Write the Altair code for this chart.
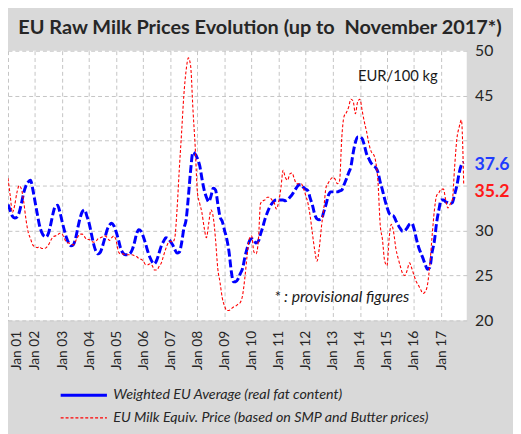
import altair as alt
import pandas as pd

# ---------------- data ----------------
series_names = [
    "Weighted EU Average (real fat content)",
    "EU Milk Equiv. Price (based on SMP and Butter prices)",
]
title_text = "EU Raw Milk Prices Evolution (up to\u00a0 November 2017*)"
first_month = "2001-01-01"   # monthly data, Jan 2001 .. Nov 2017
year_ticks = list(range(2001, 2018))

weighted_avg = [
    32.9, 32.2, 31.6, 31.4, 31.5, 32.0, 33.0, 34.2, 35.0, 35.4, 35.6, 34.6,  # 2001
    33.2, 31.8, 30.6, 29.8, 29.4, 29.3, 29.7, 30.7, 31.9, 32.7, 32.8, 32.1,  # 2002
    31.0, 30.0, 29.2, 28.6, 28.3, 28.4, 29.1, 30.3, 31.4, 32.1, 32.3, 31.6,  # 2003
    30.8, 29.6, 28.5, 27.7, 27.4, 27.6, 28.3, 29.2, 30.1, 30.6, 30.8, 30.5,  # 2004
    29.8, 28.9, 28.0, 27.5, 27.3, 27.3, 27.4, 27.8, 28.6, 29.6, 30.1, 29.9,  # 2005
    29.3, 28.5, 27.7, 27.0, 26.5, 26.3, 26.7, 27.5, 28.3, 28.8, 29.2, 29.1,  # 2006
    28.8, 28.4, 27.9, 27.5, 27.6, 28.6, 30.2, 31.2, 33.8, 36.7, 38.7, 38.5,  # 2007
    38.0, 37.2, 35.8, 34.5, 33.7, 33.2, 33.8, 34.7, 34.5, 33.0, 31.5, 31.0,  # 2008
    30.0, 29.0, 27.7, 25.5, 24.3, 24.3, 24.6, 25.2, 25.8, 27.0, 28.0, 28.8,  # 2009
    29.1, 28.9, 28.6, 28.8, 29.6, 30.4, 31.3, 32.0, 32.6, 33.0, 33.3, 33.4,  # 2010
    33.4, 33.4, 33.4, 33.3, 33.4, 33.7, 34.0, 34.4, 34.8, 35.1, 35.1, 34.8,  # 2011
    34.6, 34.4, 33.6, 32.8, 31.8, 31.3, 31.2, 31.3, 32.1, 32.9, 33.9, 34.3,  # 2012
    34.3, 34.3, 34.3, 34.4, 34.5, 35.1, 35.7, 36.4, 37.1, 38.6, 39.8, 40.4,  # 2013
    40.4, 40.2, 39.5, 38.5, 38.0, 37.5, 37.2, 37.0, 36.5, 35.4, 34.5, 33.5,  # 2014
    32.6, 31.9, 31.7, 31.6, 31.1, 30.6, 30.2, 29.9, 30.0, 30.3, 30.7, 30.8,  # 2015
    30.2, 29.1, 28.2, 27.5, 26.9, 26.2, 25.7, 25.9, 27.6, 28.8, 30.9, 32.3,  # 2016
    33.4, 33.4, 33.2, 33.1, 33.0, 33.1, 34.0, 35.0, 36.4, 37.3, 37.6,        # 2017
]

milk_equiv = [
    35.8, 33.8, 32.0, 32.8, 34.2, 35.0, 34.6, 33.2, 31.2, 29.8, 29.1, 28.4,  # 2001
    28.2, 28.1, 28.2, 28.0, 28.0, 28.1, 28.4, 28.9, 29.3, 29.4, 29.5, 29.7,  # 2002
    29.6, 29.1, 28.7, 28.6, 28.5, 28.4, 28.8, 29.3, 29.6, 29.6, 29.3, 29.0,  # 2003
    29.0, 28.8, 28.7, 28.8, 29.1, 29.2, 29.3, 29.4, 29.2, 28.9, 29.2, 29.4,  # 2004
    28.8, 27.6, 27.4, 27.4, 27.3, 27.3, 27.3, 27.3, 27.2, 27.1, 26.9, 26.8,  # 2005
    26.6, 26.2, 26.2, 26.3, 26.1, 25.6, 25.6, 26.0, 26.4, 27.2, 28.0, 28.6,  # 2006
    28.8, 28.7, 29.2, 32.4, 36.8, 40.9, 45.0, 47.8, 49.2, 48.3, 43.5, 39.4,  # 2007
    34.2, 33.0, 32.0, 30.3, 29.2, 30.8, 32.3, 31.5, 29.0, 25.8, 24.2, 22.5,  # 2008
    21.6, 21.1, 21.1, 21.3, 21.5, 21.6, 21.8, 22.0, 22.8, 24.7, 27.2, 29.1,  # 2009
    29.4, 27.6, 27.4, 28.8, 33.0, 33.3, 33.4, 33.7, 33.7, 33.4, 33.1, 32.4,  # 2010
    33.2, 34.8, 36.7, 35.9, 35.6, 36.3, 36.4, 35.7, 35.2, 35.2, 35.2, 34.7,  # 2011
    33.9, 33.0, 31.6, 29.6, 27.8, 26.6, 28.0, 30.5, 32.5, 34.8, 35.3, 35.7,  # 2012
    35.9, 35.7, 35.2, 35.5, 40.3, 42.7, 43.1, 43.7, 44.6, 44.4, 43.0, 44.3,  # 2013
    44.6, 43.3, 42.1, 41.0, 39.7, 38.8, 38.5, 37.7, 35.5, 30.7, 29.0, 26.6,  # 2014
    26.1, 29.3, 30.7, 29.8, 28.0, 26.9, 26.0, 25.2, 25.0, 25.6, 26.4, 25.8,  # 2015
    25.0, 24.3, 23.9, 23.4, 23.0, 23.2, 24.0, 26.2, 29.4, 32.2, 33.9, 34.2,  # 2016
    34.6, 34.6, 33.5, 32.5, 32.9, 33.4, 37.0, 40.2, 41.5, 42.3, 35.2,        # 2017
]

y_ticks = [20, 25, 30, 35, 40, 45, 50]
y_hidden_labels = [35, 40]   # covered by the latest-value labels

# ---------------- tables ----------------
dates = pd.date_range(first_month, periods=len(weighted_avg), freq="MS")
df = pd.concat([
    pd.DataFrame({"date": dates, "value": weighted_avg, "series": series_names[0]}),
    pd.DataFrame({"date": dates, "value": milk_equiv, "series": series_names[1]}),
])
last_df = pd.DataFrame({
    "date": [dates[-1], dates[-1]],
    "value": [weighted_avg[-1], milk_equiv[-1]],
    "series": series_names,
    "label": [f"{weighted_avg[-1]:.1f}", f"{milk_equiv[-1]:.1f}"],
})

FONT = "Lato"
BLUE, RED = "#0000ff", "#ff0000"

x_scale = alt.Scale(domain=[alt.DateTime(year=2001, month=1, date=1),
                            alt.DateTime(year=2017, month=12, date=12)], nice=False)
y_scale = alt.Scale(domain=[20, 50], nice=False, zero=False)

x_axis = alt.Axis(
    values=[alt.DateTime(year=y, month=1, date=1) for y in year_ticks],
    format="%b %y", labelAngle=270, labelFont=FONT, labelFontSize=14,
    labelColor="#262626", labelPadding=10, ticks=False, tickSize=0,
    labelOffset={"condition": {"test": "datum.value < datetime(2001, 0, 15)",
                               "value": 8.5}, "value": 0},
    domain=False, grid=True, gridColor="#c4c4c4", gridDash=[4, 3],
    labelFlush=False, labelOverlap=False, labelBound=False, title=None,
)
hide_expr = " || ".join(f"datum.value == {v}" for v in y_hidden_labels)
y_axis = alt.Axis(
    orient="right", values=y_ticks, labelFont=FONT, labelFontSize=16,
    labelColor="#262626", labelPadding=8, ticks=False, tickSize=0,
    labelExpr=f"({hide_expr}) ? '' : datum.label",
    domain=False, grid=True, gridColor="#c4c4c4", gridDash=[4, 3],
    labelFlush=False, title=None,
)

X = alt.X("date:T", scale=x_scale, axis=x_axis)
Y = alt.Y("value:Q", scale=y_scale, axis=y_axis)

legend = alt.Legend(
    title=None, orient="none", legendX=52, legendY=342, padding=0,
    direction="vertical", symbolType="stroke", symbolSize=2209,
    clipHeight=16, rowPadding=7, labelOffset=5, labelFont=FONT,
    labelFontStyle="italic", labelFontSize=14.5, labelColor="#262626",
    labelLimit=450,
)

base = alt.Chart(df)

blue_line = base.transform_filter(alt.datum.series == series_names[0]).mark_line(
    interpolate="monotone", color=BLUE, strokeWidth=3, strokeDash=[8, 3],
).encode(x=X, y=Y, order=alt.Order("date:T"))

red_line = base.transform_filter(alt.datum.series == series_names[1]).mark_line(
    interpolate="monotone", color=RED, strokeWidth=1.1, strokeDash=[3, 2],
).encode(x=X, y=Y, order=alt.Order("date:T"))

# empty layer that only carries the legend (solid blue / dotted red keys)
legend_layer = base.transform_filter("false").mark_line().encode(
    x=X, y=Y,
    color=alt.Color("series:N", scale=alt.Scale(domain=series_names,
                    range=[BLUE, RED]), legend=legend),
    strokeWidth=alt.StrokeWidth("series:N", scale=alt.Scale(domain=series_names,
                                range=[3, 1.1]), legend=legend),
    strokeDash=alt.StrokeDash("series:N", scale=alt.Scale(domain=series_names,
                              range=[[1, 0], [3, 2]]), legend=legend),
)

blue_lbl = alt.Chart(last_df).transform_filter(
    alt.datum.series == series_names[0]).mark_text(
    align="left", baseline="middle", dx=11, dy=3, font=FONT,
    fontSize=18, fontWeight="bold", color="#1f3cff",
).encode(x=X, y=Y, text="label:N")

red_lbl = alt.Chart(last_df).transform_filter(
    alt.datum.series == series_names[1]).mark_text(
    align="left", baseline="middle", dx=11, dy=8, font=FONT,
    fontSize=18, fontWeight="bold", color="#ff1a1a",
).encode(x=X, y=Y, text="label:N")

unit_note = alt.Chart(pd.DataFrame({"t": ["EUR/100 kg"]})).mark_text(
    align="center", baseline="middle", font=FONT, fontSize=15, color="#1a1a1a",
).encode(x=alt.value(396), y=alt.value(26), text="t:N")

prov_note = alt.Chart(pd.DataFrame({"t": ["* : provisional figures"]})).mark_text(
    align="center", baseline="middle", font=FONT, fontSize=16,
    fontStyle="italic", color="#1a1a1a",
).encode(x=alt.value(339), y=alt.value(250), text="t:N")

title_mark = alt.Chart(pd.DataFrame({"t": [title_text]})).mark_text(
    align="center", baseline="alphabetic", font=FONT, fontSize=20.2,
    fontWeight="bold", color="#262626",
).encode(x=alt.value(256), y=alt.value(-17), text="t:N")

chart = alt.layer(
    blue_line, red_line, legend_layer, blue_lbl, red_lbl,
    unit_note, prov_note, title_mark,
).properties(
    width=466, height=274,
    autosize=alt.AutoSizeParams(type="none"),
    padding={"left": 0, "top": 40, "right": 47, "bottom": 112},
    background="#d9d9d9",
).configure_view(fill="white", strokeWidth=0)

chart.save("out.html", embed_options={"renderer": "svg", "actions": False})
